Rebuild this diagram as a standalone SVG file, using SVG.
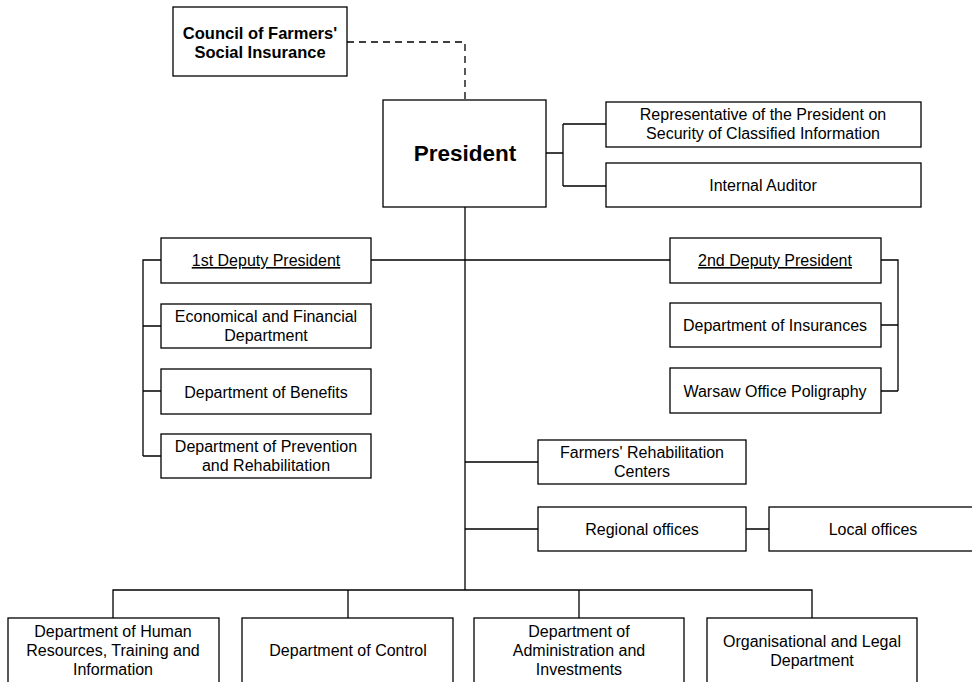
<svg xmlns="http://www.w3.org/2000/svg" width="972" height="682" viewBox="0 0 972 682">
<style>
rect{fill:#fff;stroke:#000;stroke-width:1.3}
text{font-family:"Liberation Sans",Arial,sans-serif;font-size:16px;text-anchor:middle;fill:#000}
.b{font-weight:bold}
.u{text-decoration:underline}
#connectors path{fill:none;stroke:#000;stroke-width:1.3}
</style>
<rect x="0" y="0" width="972" height="682" style="stroke:none"/>
<g id="connectors">
<path d="M347 42H465V100" stroke-dasharray="7,5"/>
<path d="M546 153H563M563 124V186M563 124H606M563 186H606"/>
<path d="M465 207V590"/>
<path d="M371 260H670"/>
<path d="M161 260H143V456M143 326H161M143 391H161M143 456H161"/>
<path d="M881 260H898V391M881 325H898M881 391H898"/>
<path d="M465 462H538M465 529H538M746 529H769"/>
<path d="M113 618V590H812V618M348 590V618M579 590V618"/>
</g>
<g id="council"><rect x="173" y="7" width="174" height="69"/><text class="b" x="260" y="39" style="font-size:16.5px">Council of Farmers'</text><text class="b" x="260" y="58" style="font-size:16.5px">Social Insurance</text></g>
<g id="president"><rect x="383" y="100" width="163" height="107"/><text class="b" x="465" y="161" style="font-size:22.5px">President</text></g>
<g id="representative"><rect x="606" y="102" width="315" height="45"/><text x="763" y="120">Representative of the President on</text><text x="763" y="139">Security of Classified Information</text></g>
<g id="auditor"><rect x="606" y="163" width="315" height="44"/><text x="763" y="191">Internal Auditor</text></g>
<g id="deputy1"><rect x="161" y="238" width="210" height="45"/><text class="u" x="266" y="266">1st Deputy President</text></g>
<g id="econ"><rect x="161" y="304" width="210" height="44"/><text x="266" y="322">Economical and Financial</text><text x="266" y="341">Department</text></g>
<g id="benefits"><rect x="161" y="369" width="210" height="45"/><text x="266" y="398">Department of Benefits</text></g>
<g id="prevention"><rect x="161" y="434" width="210" height="44"/><text x="266" y="452">Department of Prevention</text><text x="266" y="471">and Rehabilitation</text></g>
<g id="deputy2"><rect x="670" y="238" width="211" height="45"/><text class="u" x="775" y="266">2nd Deputy President</text></g>
<g id="insurances"><rect x="670" y="303" width="211" height="44"/><text x="775" y="331">Department of Insurances</text></g>
<g id="warsaw"><rect x="670" y="368" width="211" height="45"/><text x="775" y="397">Warsaw Office Poligraphy</text></g>
<g id="rehab"><rect x="538" y="440" width="208" height="44"/><text x="642" y="458">Farmers' Rehabilitation</text><text x="642" y="477">Centers</text></g>
<g id="regional"><rect x="538" y="507" width="208" height="44"/><text x="642" y="535">Regional offices</text></g>
<g id="local"><rect x="769" y="507" width="210" height="44"/><text x="873" y="535">Local offices</text></g>
<g id="hr"><rect x="8" y="618" width="211" height="72"/><text x="113" y="637">Department of Human</text><text x="113" y="656">Resources, Training and</text><text x="113" y="675">Information</text></g>
<g id="control"><rect x="242" y="618" width="211" height="72"/><text x="348" y="656">Department of Control</text></g>
<g id="admin"><rect x="474" y="618" width="210" height="72"/><text x="579" y="637">Department of</text><text x="579" y="656">Administration and</text><text x="579" y="675">Investments</text></g>
<g id="legal"><rect x="707" y="618" width="210" height="72"/><text x="812" y="647">Organisational and Legal</text><text x="812" y="666">Department</text></g>
</svg>
